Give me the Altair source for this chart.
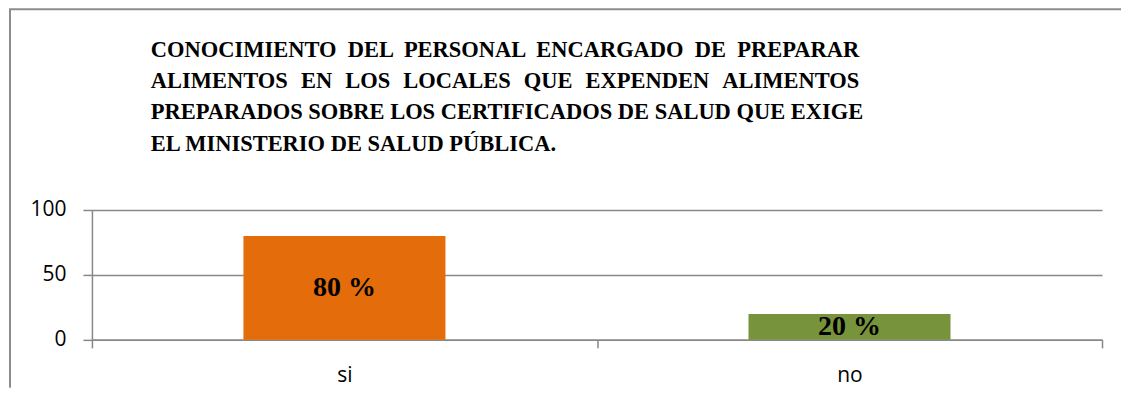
import altair as alt
import pandas as pd

categories = ["si", "no"]
values = [80, 20]
labels = ["80 %", "20 %"]
colors = ["#E46C0A", "#77933C"]

title_words = [
    ["CONOCIMIENTO", "DEL", "PERSONAL", "ENCARGADO", "DE", "PREPARAR"],
    ["ALIMENTOS", "EN", "LOS", "LOCALES", "QUE", "EXPENDEN", "ALIMENTOS"],
    ["PREPARADOS", "SOBRE", "LOS", "CERTIFICADOS", "DE", "SALUD", "QUE", "EXIGE"],
]
subtitle_line = "EL MINISTERIO DE SALUD PÚBLICA."
# word gaps imitate the justified paragraph of the original
gaps = [" \u00a0", " \u00a0\u200a", " "]
title_lines = [g.join(w) for w, g in zip(title_words, gaps)]

df = pd.DataFrame({"cat": categories, "val": values, "lab": labels, "col": colors})

x_enc = alt.X(
    "cat:N",
    sort=categories,
    title=None,
    scale=alt.Scale(paddingInner=0, paddingOuter=0),
    axis=alt.Axis(
        tickBand="extent",
        labelAngle=0,
        tickSize=8,
        labelPadding=17,
        labelFont="Open Sans",
        labelFontSize=21,
        labelColor="#000000",
        domainColor="#888888",
        domainWidth=1.5,
        tickColor="#888888",
        tickWidth=1.5,
        grid=False,
    ),
)

base = alt.Chart(df)

bars = base.mark_bar(width=alt.RelativeBandSize(0.4)).encode(
    x=x_enc,
    y=alt.Y(
        "val:Q",
        title=None,
        scale=alt.Scale(domain=[0, 100]),
        axis=alt.Axis(
            values=[0, 50, 100],
            tickSize=9,
            labelPadding=17,
            labelFont="Open Sans",
            labelFontSize=21,
            labelColor="#000000",
            domainColor="#888888",
            domainWidth=1.5,
            tickColor="#888888",
            tickWidth=1.5,
            gridColor="#888888",
            gridWidth=1.5,
        ),
    ),
    color=alt.Color("col:N", scale=None, legend=None),
)

text = base.transform_calculate(mid="datum.val / 2").mark_text(
    font="Liberation Serif", fontWeight="bold", fontSize=28, color="#000000", baseline="middle"
).encode(x=alt.X("cat:N", sort=categories), y=alt.Y("mid:Q"), text="lab:N")

one = pd.DataFrame({"a": [0]})
left_border = alt.Chart(one).mark_rule(color="#8c8c8c", strokeWidth=2).encode(
    x=alt.value(-82), y=alt.value(-201), y2=alt.value(178)
)
top_border = alt.Chart(one).mark_rule(color="#8c8c8c", strokeWidth=2).encode(
    x=alt.value(-83), x2=alt.value(1030), y=alt.value(-201)
)

chart = (
    alt.layer(bars, text, left_border, top_border)
    .properties(
        width=1011,
        height=130,
        padding=0,
        title=alt.Title(
            text=title_lines,
            subtitle=subtitle_line,
            anchor="start",
            frame="group",
            dx=59,
            font="Liberation Serif",
            fontSize=22.5,
            fontWeight="bold",
            color="#000000",
            lineHeight=31,
            subtitleFont="Liberation Serif",
            subtitleFontSize=22.5,
            subtitleFontWeight="bold",
            subtitleColor="#000000",
            subtitleLineHeight=31,
            subtitlePadding=9,
            offset=-147,
        ),
    )
    .configure_view(stroke=None)
)

chart.save("out.html", embed_options={"renderer": "svg", "actions": False})
